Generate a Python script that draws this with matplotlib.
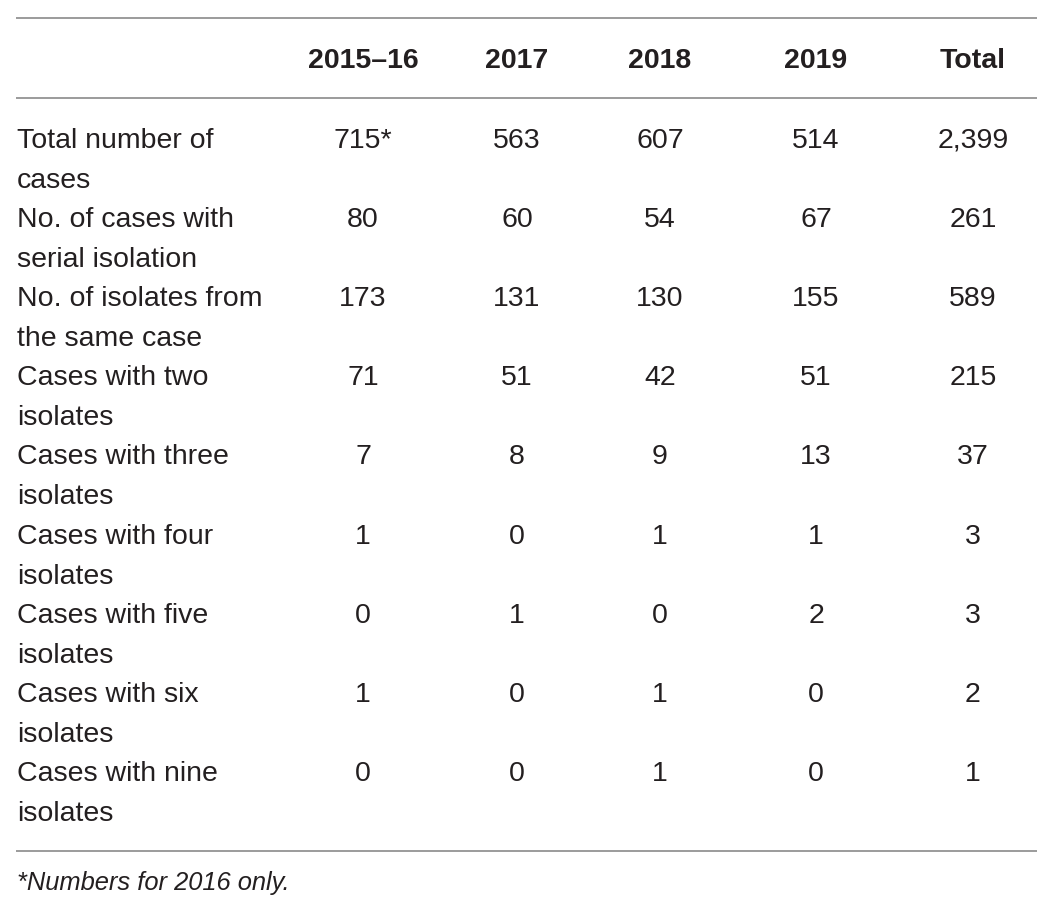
import matplotlib
matplotlib.use("Agg")
import matplotlib.pyplot as plt

plt.rcParams['font.family'] = ['Liberation Sans', 'DejaVu Sans']

columns = ["2015\u201316", "2017", "2018", "2019", "Total"]
row_labels = [
    "Total number of\ncases",
    "No. of cases with\nserial isolation",
    "No. of isolates from\nthe same case",
    "Cases with two\nisolates",
    "Cases with three\nisolates",
    "Cases with four\nisolates",
    "Cases with five\nisolates",
    "Cases with six\nisolates",
    "Cases with nine\nisolates",
]
y2015_16 = ["715*", "80", "173", "71", "7", "1", "0", "1", "0"]
y2017 = ["563", "60", "131", "51", "8", "0", "1", "0", "0"]
y2018 = ["607", "54", "130", "42", "9", "1", "0", "1", "1"]
y2019 = ["514", "67", "155", "51", "13", "1", "2", "0", "0"]
total = ["2,399", "261", "589", "215", "37", "3", "3", "2", "1"]
footnote = "*Numbers for 2016 only."

W, H = 1058, 915
fig = plt.figure(figsize=(W / 100, H / 100), dpi=100)
ax = fig.add_axes([0, 0, 1, 1])
ax.set_xlim(0, W)
ax.set_ylim(H, 0)
ax.axis("off")

txt = "#231f20"
line_col = "#8a8a8a"
col_x = [363, 517, 660, 816, 973]
fs = 20.5

# horizontal rules
for y in [18, 98, 851]:
    ax.plot([16, 1037], [y, y], color=line_col, lw=1.2, solid_capstyle="butt")

# header
for x, c in zip(col_x, columns):
    ax.text(x, 61.5, c, ha="center", va="center", fontsize=fs, fontweight="bold", color=txt)

# body
data = [y2015_16, y2017, y2018, y2019, total]
row_top = 140.5
row_h = 79.2
for i, lab in enumerate(row_labels):
    y = row_top + i * row_h
    first, second = lab.split("\n")
    ax.text(17, y, first, ha="left", va="center", fontsize=fs, color=txt)
    ax.text(17, y + 40, second, ha="left", va="center", fontsize=fs, color=txt)
    for x, col in zip(col_x, data):
        ax.text(x, y, col[i], ha="center", va="center", fontsize=fs, color=txt)

ax.text(17, 883, footnote, ha="left", va="center", fontsize=18.4, style="italic", color=txt)

fig.savefig("out.png", dpi=100)
